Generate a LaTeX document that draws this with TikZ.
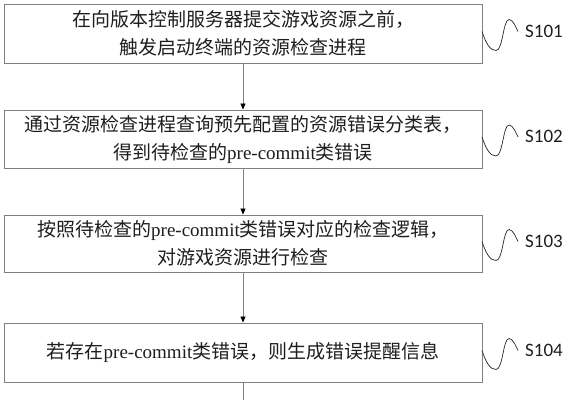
\documentclass[tikz,border=0pt]{standalone}
\usepackage{fontspec}
\setmainfont{Liberation Serif}
\newfontfamily\cjk{Noto Sans CJK SC}
\newfontfamily\labfont{Carlito}
\usetikzlibrary{arrows.meta}
\definecolor{boxgray}{RGB}{128,128,128}
\definecolor{txt}{RGB}{30,30,30}
\begin{document}
\begin{tikzpicture}[x=1pt,y=-1pt,
  stepbox/.style={draw=boxgray, line width=0.9pt, minimum width=478pt, inner sep=0pt,
    font=\fontsize{19}{28}\selectfont, align=center, text=txt},
  flow/.style={draw=boxgray, line width=0.8pt, -{Triangle[length=6pt,width=5pt,color=black]}},
  lbl/.style={font=\labfont\fontsize{19}{20}\selectfont, anchor=west, text=txt, inner sep=0pt},
  wave/.style={draw=black!85, line width=0.7pt}]
\useasboundingbox (0,0) rectangle (569,400);

\node[stepbox, minimum height=59pt] (b1) at (243,33.5)
  {\cjk 在向版本控制服务器提交游戏资源之前，\\ \cjk 触发启动终端的资源检查进程};
\node[stepbox, minimum height=58pt] (b2) at (243,139)
  {\cjk 通过资源检查进程查询预先配置的资源错误分类表，\\ {\cjk 得到待检查的}pre-commit{\cjk 类错误}};
\node[stepbox, minimum height=57pt] (b3) at (243,243.5)
  {{\cjk 按照待检查的}pre-commit{\cjk 类错误对应的检查逻辑，}\\ \cjk 对游戏资源进行检查};
\node[stepbox, minimum height=59pt] (b4) at (243,352.5)
  {{\cjk 若存在}pre-commit{\cjk 类错误，则生成错误提醒信息}};

\coordinate (end) at (243,400);
\draw[flow] (b1) -- (b2);
\draw[flow] (b2) -- (b3);
\draw[flow] (b3) -- (b4);
\draw[draw=boxgray, line width=0.8pt] (b4.south) -- (end);

\foreach \b/\s/\c in {b1/S101/33.5, b2/S102/139, b3/S103/243.5, b4/S104/352.5}{
  \draw[wave] (482,{\c-2}) .. controls (486,{\c+10}) and (490,{\c+17}) .. (496,{\c+17})
     .. controls (503,{\c+17}) and (503,{\c-14}) .. (509,{\c-14})
     .. controls (513,{\c-14}) and (516,{\c-6}) .. (518,{\c-2});
  \node[lbl] (\s) at (525,{\c-2.5}) {\s};
}
\end{tikzpicture}
\end{document}
